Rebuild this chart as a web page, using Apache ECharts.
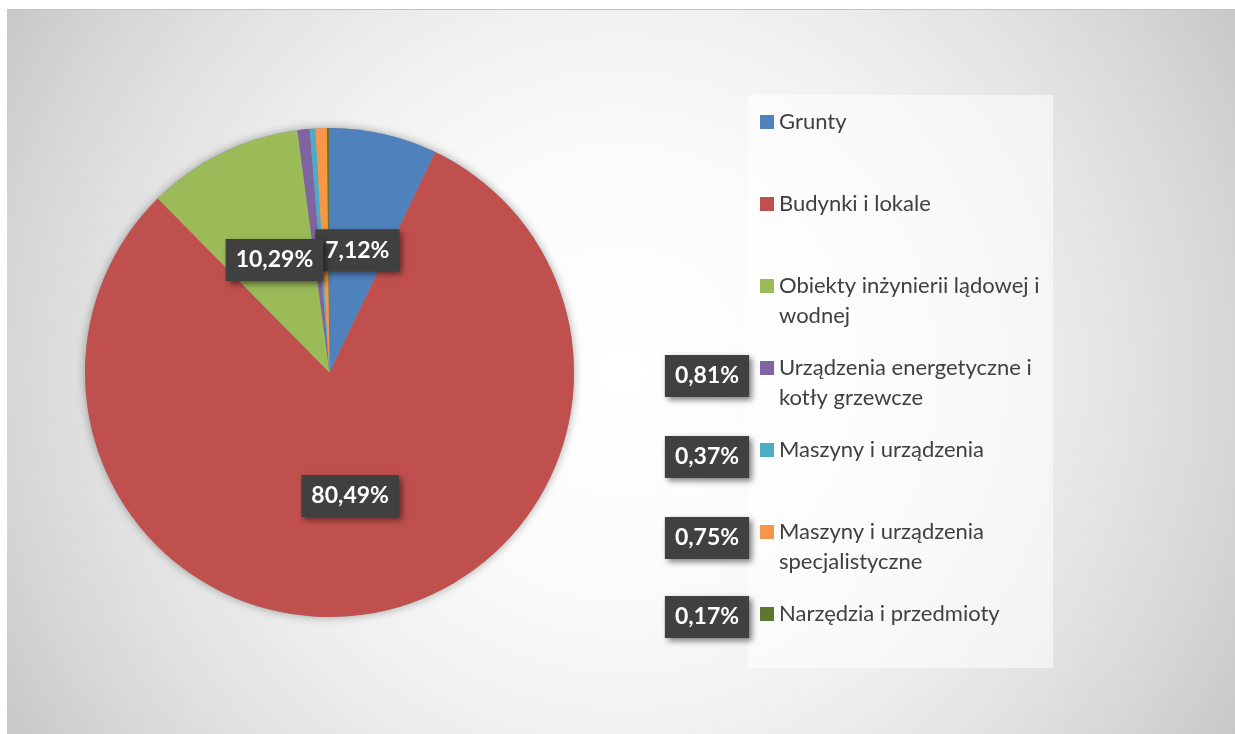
<!DOCTYPE html>
<html>
<head>
<meta charset="utf-8">
<script src="https://cdn.jsdelivr.net/npm/echarts@6/dist/echarts.min.js"></script>
<style>
	html, body { margin: 0; padding: 0; background: #fff; }
	#chart { position: absolute; left: 7px; top: 9px; width: 1228px; height: 724px; border-top: 1px solid #c4c4c4; }
</style>
</head>
<body>
<div id="chart"></div>
<script>
var categories = [
	'Grunty',
	'Budynki i lokale',
	'Obiekty inżynierii lądowej i wodnej',
	'Urządzenia energetyczne i kotły grzewcze',
	'Maszyny i urządzenia',
	'Maszyny i urządzenia specjalistyczne',
	'Narzędzia i przedmioty'
];
var legendText = [
	'Grunty',
	'Budynki i lokale',
	'Obiekty inżynierii lądowej i\nwodnej',
	'Urządzenia energetyczne i\nkotły grzewcze',
	'Maszyny i urządzenia',
	'Maszyny i urządzenia\nspecjalistyczne',
	'Narzędzia i przedmioty'
];
var shares = [7.12, 80.49, 10.29, 0.81, 0.37, 0.75, 0.17];
var colors = ['#4f81bd', '#c0504d', '#9bbb59', '#8064a2', '#4bacc6', '#f79646', '#5f7530'];

// layout: legend rows and where the small slice labels sit (beside the legend)
var legendLeft = 753;
var legendRowTop = 112;
var legendRowStep = 82;
var smallLabelX = 700;
var smallLabelY = { 3: 366, 4: 447, 5: 528, 6: 607 };

var lineH = 29.5;

var legends = categories.map(function(name, i) {
	var twoLines = legendText[i].indexOf('\n') >= 0;
	var rowY = legendRowTop + i * legendRowStep;
	return {
		data: [name],
		orient: 'vertical',
		left: legendLeft,
		top: twoLines ? rowY - lineH * 1.5 : rowY - lineH / 2,
		padding: 0,
		icon: 'rect',
		itemWidth: 14,
		itemHeight: 14,
		selectedMode: false,
		// two-line entries get an empty line on top so the marker sits on the first line
		formatter: function(n) {
			var t = legendText[categories.indexOf(n)];
			return t.indexOf('\n') >= 0 ? ' \n' + t : t;
		},
		textStyle: {
			color: '#404040',
			fontFamily: 'Lato, sans-serif',
			fontSize: 22,
			lineHeight: lineH
		}
	};
});

var myChart = echarts.init(document.getElementById('chart'));

var option = {
	backgroundColor: {
		type: 'radial', x: 0.5, y: 0.5, r: 1,
		colorStops: [
			{ offset: 0, color: '#ffffff' },
			{ offset: 0.3, color: '#fbfbfb' },
			{ offset: 0.5, color: '#f1f1f1' },
			{ offset: 0.7, color: '#e3e3e3' },
			{ offset: 0.85, color: '#d6d6d6' },
			{ offset: 1, color: '#c6c6c6' }
		]
	},
	color: colors,
	animation: false,
	graphic: [{
		type: 'rect',
		z: -1,
		shape: { x: 741, y: 85, width: 305, height: 573 },
		style: { fill: 'rgba(255,255,255,0.55)' }
	}],
	legend: legends,
	series: [{
		// soft shadow under the pie
		type: 'pie',
		silent: true,
		z: 1,
		center: [322.5, 362.5],
		radius: 244.5,
		label: { show: false },
		labelLine: { show: false },
		itemStyle: { color: '#9a9a9a', shadowBlur: 10, shadowColor: 'rgba(0,0,0,0.35)' },
		data: [{ value: 1, name: '' }]
	}, {
		type: 'pie',
		z: 2,
		center: [322.5, 362.5],
		radius: 244.5,
		startAngle: 90,
		clockwise: true,
		avoidLabelOverlap: false,
		data: categories.map(function(name, i) { return { name: name, value: shares[i] }; }),
		itemStyle: { borderWidth: 0 },
		emphasis: { disabled: true },
		labelLine: { show: false },
		label: {
			show: true,
			position: 'inside',
			formatter: function(p) { return p.value.toFixed(2).replace('.', ',') + '%'; },
			color: '#ffffff',
			fontFamily: 'Lato, sans-serif',
			fontWeight: 'bold',
			fontSize: 23,
			lineHeight: 24,
			backgroundColor: '#404040',
			padding: [9, 10, 9, 10],
			shadowColor: 'rgba(0,0,0,0.5)',
			shadowBlur: 6,
			shadowOffsetX: 3,
			shadowOffsetY: 3
		},
		labelLayout: function(params) {
			if (smallLabelY[params.dataIndex] !== undefined) {
				return { x: smallLabelX, y: smallLabelY[params.dataIndex], align: 'center', verticalAlign: 'middle' };
			}
		}
	}]
};

myChart.setOption(option);
</script>
</body>
</html>
